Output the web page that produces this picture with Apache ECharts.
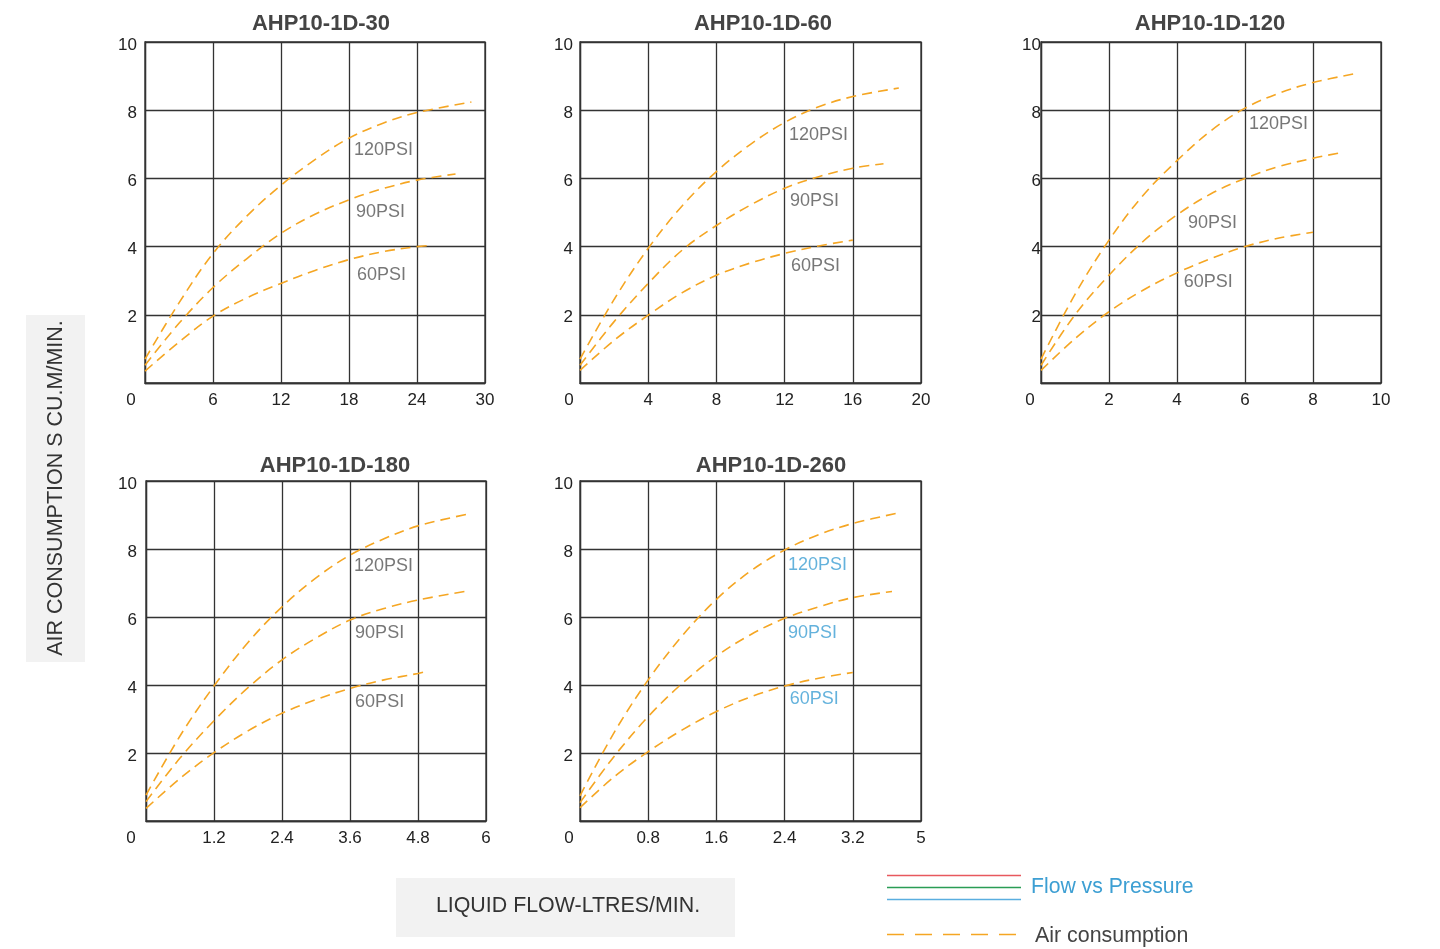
<!DOCTYPE html>
<html><head><meta charset="utf-8">
<script src="https://cdn.jsdelivr.net/npm/echarts@6/dist/echarts.min.js"></script>
<style>html,body{margin:0;padding:0;background:#fff}#c{width:1440px;height:949px}</style>
</head><body><div id="c"></div>
<script>
// ---------- DATA ----------
const titles = ['AHP10-1D-30', 'AHP10-1D-60', 'AHP10-1D-120', 'AHP10-1D-180', 'AHP10-1D-260'];
const xMax = [30, 20, 10, 6, 4];
const xInterval = [6, 4, 2, 1.2, 0.8];
const xTickLabels = [
  ['0', '6', '12', '18', '24', '30'],
  ['0', '4', '8', '12', '16', '20'],
  ['0', '2', '4', '6', '8', '10'],
  ['0', '1.2', '2.4', '3.6', '4.8', '6'],
  ['0', '0.8', '1.6', '2.4', '3.2', '5']
];
const yTickLabels = ['0', '2', '4', '6', '8', '10'];
const pressures = ['120PSI', '90PSI', '60PSI'];

// AHP10-1D-30
const flow30_120 = [0, 3, 6, 9, 12, 15, 18, 21, 24, 28.8];
const air30_120  = [0.7, 2.35, 3.8, 4.9, 5.8, 6.55, 7.18, 7.62, 7.93, 8.24];
const flow30_90  = [0, 3, 6, 9, 12, 15, 18, 21, 24, 27.4];
const air30_90   = [0.52, 1.75, 2.8, 3.65, 4.39, 4.95, 5.37, 5.7, 5.95, 6.13];
const flow30_60  = [0, 3, 6, 9, 12, 15, 18, 21, 24, 25.2];
const air30_60   = [0.35, 1.2, 1.96, 2.5, 2.92, 3.3, 3.62, 3.85, 4.0, 4.03];
// AHP10-1D-60
const flow60_120 = [0, 2, 4, 6, 8, 10, 12, 14, 16, 18.7];
const air60_120  = [0.7, 2.45, 3.95, 5.2, 6.2, 7.0, 7.64, 8.1, 8.4, 8.65];
const flow60_90  = [0, 2, 4, 6, 8, 10, 12, 14, 16, 17.8];
const air60_90   = [0.52, 1.8, 2.92, 3.9, 4.62, 5.22, 5.71, 6.05, 6.3, 6.43];
const flow60_60  = [0, 2, 4, 6, 8, 10, 12, 14, 16];
const air60_60   = [0.37, 1.25, 1.99, 2.65, 3.16, 3.52, 3.8, 4.02, 4.19];
// AHP10-1D-120
const flow120_120 = [0, 1, 2, 3, 4, 5, 6, 7, 8, 9.33];
const air120_120  = [0.7, 2.6, 4.19, 5.5, 6.52, 7.4, 8.06, 8.5, 8.81, 9.09];
const flow120_90  = [0, 1, 2, 3, 4, 5, 6, 7, 8, 8.75];
const air120_90   = [0.52, 2.0, 3.16, 4.15, 4.93, 5.55, 6.0, 6.35, 6.59, 6.74];
const flow120_60  = [0, 1, 2, 3, 4, 5, 6, 7, 8];
const air120_60   = [0.37, 1.3, 2.09, 2.72, 3.23, 3.65, 4.0, 4.25, 4.42];
// AHP10-1D-180
const flow180_120 = [0, 0.6, 1.2, 1.8, 2.4, 3.0, 3.6, 4.2, 4.8, 5.69];
const air180_120  = [0.76, 2.5, 3.97, 5.25, 6.3, 7.15, 7.82, 8.3, 8.68, 9.03];
const flow180_90  = [0, 0.6, 1.2, 1.8, 2.4, 3.0, 3.6, 4.2, 4.8, 5.62];
const air180_90   = [0.57, 1.85, 2.95, 3.92, 4.74, 5.38, 5.91, 6.25, 6.5, 6.75];
const flow180_60  = [0, 0.6, 1.2, 1.8, 2.4, 3.0, 3.6, 4.2, 4.8, 4.98];
const air180_60   = [0.37, 1.25, 2.01, 2.65, 3.17, 3.57, 3.9, 4.15, 4.34, 4.41];
// AHP10-1D-260
const flow260_120 = [0, 0.4, 0.8, 1.2, 1.6, 2.0, 2.4, 2.8, 3.2, 3.77];
const air260_120  = [0.74, 2.6, 4.15, 5.45, 6.52, 7.35, 7.97, 8.42, 8.75, 9.08];
const flow260_90  = [0, 0.4, 0.8, 1.2, 1.6, 2.0, 2.4, 2.8, 3.2, 3.66];
const air260_90   = [0.54, 1.9, 3.07, 4.05, 4.85, 5.48, 5.96, 6.3, 6.57, 6.75];
const flow260_60  = [0, 0.4, 0.8, 1.2, 1.6, 2.0, 2.4, 2.8, 3.2];
const air260_60   = [0.39, 1.3, 2.04, 2.68, 3.22, 3.65, 3.97, 4.2, 4.37];

// curve label anchors (data units) per chart: 120, 90, 60 PSI
const labelFlow = [[18.44, 18.62, 18.71], [12.26, 12.32, 12.38], [6.12, 4.32, 4.2], [3.67, 3.69, 3.69], [2.44, 2.44, 2.46]];
const labelAir  = [[6.82, 5.0, 3.18], [7.26, 5.35, 3.44], [7.59, 4.68, 2.97], [7.5, 5.53, 3.5], [7.53, 5.53, 3.59]];

const curves = [
  [[flow30_120, air30_120], [flow30_90, air30_90], [flow30_60, air30_60]],
  [[flow60_120, air60_120], [flow60_90, air60_90], [flow60_60, air60_60]],
  [[flow120_120, air120_120], [flow120_90, air120_90], [flow120_60, air120_60]],
  [[flow180_120, air180_120], [flow180_90, air180_90], [flow180_60, air180_60]],
  [[flow260_120, air260_120], [flow260_90, air260_90], [flow260_60, air260_60]]
];

// ---------- LAYOUT / STYLE ----------
const FONT = '"Liberation Sans", Arial, sans-serif';
const grids = [
  {left: 145, top: 42, width: 340, height: 341},
  {left: 580, top: 42, width: 341, height: 341},
  {left: 1041, top: 42, width: 340, height: 341},
  {left: 146, top: 481, width: 340, height: 340},
  {left: 580, top: 481, width: 341, height: 340}
];
const titlePos = [[316, 8], [758, 8], [1205, 8], [330, 450], [766, 450]];
const zeroPad = [28, 22, 22, 30, 22];
const yMargin = [8, 7, 0, 9, 7];
const labelColors = ['#555', '#555', '#555', '#555', '#3d9fd3'];
const ORANGE = '#f5a623';
const GRIDC = '#333';

const option = {
  backgroundColor: '#fff',
  animation: false,
  title: titles.map((t, i) => ({
    text: t, left: titlePos[i][0], top: titlePos[i][1], textAlign: 'center',
    textStyle: {fontFamily: FONT, fontSize: 22, fontWeight: 'bold', color: '#444'}
  })),
  grid: grids.map(g => Object.assign({show: true, borderColor: GRIDC, borderWidth: 1.3, backgroundColor: 'transparent'}, g)),
  xAxis: grids.map((g, i) => ({
    type: 'value', gridIndex: i, min: 0, max: xMax[i], interval: xInterval[i],
    axisLine: {show: true, lineStyle: {color: GRIDC, width: 1.3}},
    axisTick: {show: false},
    splitLine: {show: true, lineStyle: {color: GRIDC, width: 1.3}},
    axisLabel: {
      margin: 9, fontFamily: FONT, fontSize: 17, color: '#222',
      formatter: v => {
        const k = Math.round(v / xInterval[i]);
        return k === 0 ? '{z|' + xTickLabels[i][0] + '}' : xTickLabels[i][k];
      },
      rich: {z: {fontFamily: FONT, fontSize: 17, color: '#222', padding: [0, zeroPad[i], 0, 0]}}
    }
  })),
  yAxis: grids.map((g, i) => ({
    type: 'value', gridIndex: i, min: 0, max: 10, interval: 2,
    axisLine: {show: true, lineStyle: {color: GRIDC, width: 1.3}},
    axisTick: {show: false},
    splitLine: {show: true, lineStyle: {color: GRIDC, width: 1.3}},
    axisLabel: {
      margin: yMargin[i], fontFamily: FONT, fontSize: 17, color: '#222',
      formatter: v => { const k = Math.round(v / 2); return k === 0 ? '' : '{y|' + yTickLabels[k] + '}'; },
      rich: {y: {fontFamily: FONT, fontSize: 17, color: '#222', padding: [6, 0, 0, 0]}}
    }
  })),
  series: [],
  graphic: [
    {type: 'rect', shape: {x: 26, y: 315, width: 59, height: 347}, style: {fill: '#f2f2f2'}},
    {type: 'text', x: 56, y: 488, rotation: Math.PI / 2,
     style: {text: 'AIR CONSUMPTION S CU.M/MIN.', align: 'center', verticalAlign: 'middle', fontFamily: FONT, fontSize: 21.5, fill: '#333'}},
    {type: 'rect', shape: {x: 396, y: 878, width: 339, height: 59}, style: {fill: '#f2f2f2'}},
    {type: 'text', x: 568, y: 906,
     style: {text: 'LIQUID FLOW-LTRES/MIN.', align: 'center', verticalAlign: 'middle', fontFamily: FONT, fontSize: 21.4, fill: '#333'}},
    {type: 'line', shape: {x1: 887, y1: 875.5, x2: 1021, y2: 875.5}, style: {stroke: '#e8585e', lineWidth: 1.5}},
    {type: 'line', shape: {x1: 887, y1: 887.5, x2: 1021, y2: 887.5}, style: {stroke: '#2a9d55', lineWidth: 1.5}},
    {type: 'line', shape: {x1: 887, y1: 899.5, x2: 1021, y2: 899.5}, style: {stroke: '#5aaee0', lineWidth: 1.5}},
    {type: 'text', x: 1031, y: 887,
     style: {text: 'Flow vs Pressure', align: 'left', verticalAlign: 'middle', fontFamily: FONT, fontSize: 21.2, fill: '#3d9fd3'}},
    {type: 'line', shape: {x1: 887, y1: 934.5, x2: 1021, y2: 934.5}, style: {stroke: ORANGE, lineWidth: 1.5, lineDash: [17, 11]}},
    {type: 'text', x: 1035, y: 936,
     style: {text: 'Air consumption', align: 'left', verticalAlign: 'middle', fontFamily: FONT, fontSize: 21.4, fill: '#444'}}
  ]
};

curves.forEach((chart, i) => {
  chart.forEach((c, p) => {
    option.series.push({
      type: 'line', xAxisIndex: i, yAxisIndex: i, name: pressures[p],
      data: c[0].map((x, j) => [x, c[1][j]]),
      smooth: 0.35, showSymbol: false, silent: true,
      lineStyle: {color: ORANGE, width: 1.6, type: [10, 6]}
    });
  });
  option.series.push({
    type: 'scatter', xAxisIndex: i, yAxisIndex: i, symbolSize: 0, silent: true,
    data: pressures.map((n, p) => [labelFlow[i][p], labelAir[i][p], n]),
    label: {show: true, position: 'right', distance: 0, formatter: pr => pr.data[2],
            fontFamily: FONT, fontSize: 18, color: labelColors[i]}
  });
});

const chart = echarts.init(document.getElementById('c'), null, {renderer: 'canvas'});
chart.setOption(option);
</script>
</body></html>
